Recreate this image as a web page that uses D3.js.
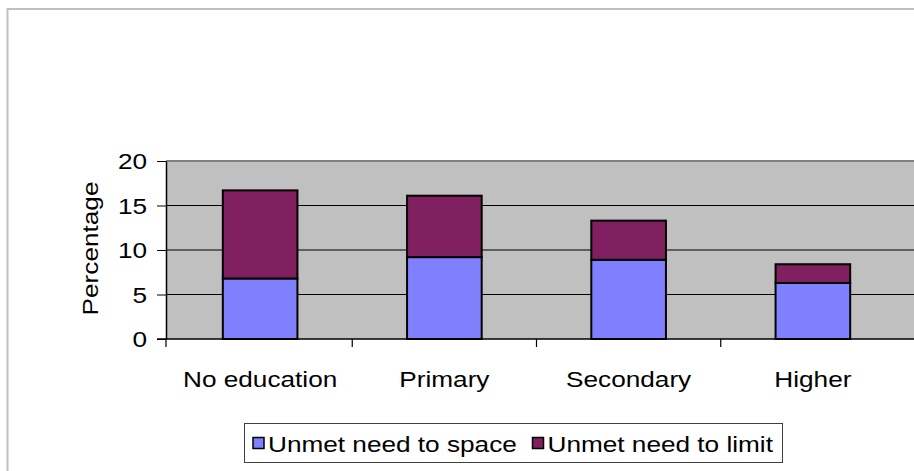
<!DOCTYPE html>
<html>
<head>
<meta charset="utf-8">
<script src="https://cdn.jsdelivr.net/npm/d3@7"></script>
<style>
  html, body { margin: 0; padding: 0; background: #fff; }
  svg { display: block; }
  text { font-family: "Liberation Sans", Arial, sans-serif; fill: #000; }
</style>
</head>
<body>
<div id="chart"></div>
<script>
// ---- data ----
const categories = ["No education", "Primary", "Secondary", "Higher"];
const spaceValues = [6.8, 9.2, 8.9, 6.3];
const limitValues = [9.9, 6.9, 4.4, 2.1];
const seriesNames = ["Unmet need to space", "Unmet need to limit"];
const seriesColors = ["#8080FF", "#802060"];
const yTicks = [0, 5, 10, 15, 20];
const yTitle = "Percentage";

// ---- layout ----
const W = 914, H = 471;
const plotLeft = 166, plotTop = 161, plotBottom = 339;
const fontSize = 22, stretch = 1.19;

const svg = d3.select("#chart").append("svg").attr("width", W).attr("height", H);

// outer chart border
svg.append("rect").attr("x", 7.5).attr("y", 9).attr("width", 1000).attr("height", 1000)
  .attr("fill", "#fff").attr("stroke", "#c0c0c0").attr("stroke-width", 2);

const x = d3.scaleBand().domain(categories).range([168, 905]).padding(0);
const y = d3.scaleLinear().domain([0, 20]).range([plotBottom, plotTop]);

// plot area background
svg.append("rect").attr("x", plotLeft).attr("y", plotTop)
  .attr("width", W - plotLeft + 10).attr("height", plotBottom - plotTop)
  .attr("fill", "#c0c0c0");

// gridlines
svg.append("g").selectAll("line").data(yTicks.filter(t => t > 0 && t < 20)).join("line")
  .attr("x1", plotLeft).attr("x2", W + 5)
  .attr("y1", d => y(d)).attr("y2", d => y(d))
  .attr("stroke", "#000").attr("stroke-width", 1);

// top border of plot area
svg.append("line").attr("x1", plotLeft).attr("x2", W + 5)
  .attr("y1", y(20)).attr("y2", y(20))
  .attr("stroke", "#808080").attr("stroke-width", 2);

// stacked bars
const rows = categories.map((c, i) => ({ cat: c, space: spaceValues[i], limit: limitValues[i] }));
const stacked = d3.stack().keys(["space", "limit"])(rows);
const barW = x.bandwidth() * 0.405;
svg.append("g").selectAll("g").data(stacked).join("g")
  .attr("fill", (d, i) => seriesColors[i])
  .selectAll("rect").data(d => d).join("rect")
  .attr("x", d => x(d.data.cat) + (x.bandwidth() - barW) / 2)
  .attr("width", barW)
  .attr("y", d => y(d[1]))
  .attr("height", d => y(d[0]) - y(d[1]))
  .attr("stroke", "#000").attr("stroke-width", 2);

// x axis line
svg.append("line").attr("x1", plotLeft - 9).attr("x2", W + 5)
  .attr("y1", plotBottom).attr("y2", plotBottom)
  .attr("stroke", "#000").attr("stroke-width", 1.5);

// x axis category boundary ticks
const bounds = [plotLeft].concat(categories.slice(1).map(c => x(c)));
svg.append("g").selectAll("line").data(bounds).join("line")
  .attr("x1", d => d).attr("x2", d => d)
  .attr("y1", plotBottom).attr("y2", plotBottom + 8)
  .attr("stroke", "#000").attr("stroke-width", 1.2);

// y axis
const yAxis = d3.axisLeft(y).tickValues(yTicks).tickSize(9).tickSizeOuter(0).tickPadding(10);
const gy = svg.append("g").attr("transform", `translate(${plotLeft},0)`).call(yAxis);
gy.select(".domain").attr("stroke", "#000").attr("stroke-width", 1.5);
gy.selectAll(".tick line").attr("stroke", "#000").attr("stroke-width", 1);
gy.selectAll(".tick text")
  .attr("font-size", fontSize)
  .attr("font-family", "Liberation Sans, Arial, sans-serif")
  .attr("fill", "#000")
  .attr("x", -19 / stretch)
  .attr("dy", "0.36em")
  .attr("transform", `scale(${stretch},1)`);

// category labels
svg.append("g").selectAll("g").data(categories).join("g")
  .attr("transform", d => `translate(${x(d) + x.bandwidth() / 2},387) scale(${stretch},1)`)
  .append("text").attr("text-anchor", "middle").attr("font-size", fontSize).text(d => d);

// y axis title
svg.append("g").attr("transform", `translate(97.5,248.5) rotate(-90) scale(${stretch},1)`)
  .append("text").attr("text-anchor", "middle").attr("font-size", fontSize).text(yTitle);

// legend
const lg = svg.append("g");
lg.append("rect").attr("x", 244.5).attr("y", 423.5).attr("width", 538).attr("height", 39)
  .attr("fill", "#fff").attr("stroke", "#404040").attr("stroke-width", 1);
const legendX = [253, 532.5];
const items = lg.selectAll("g").data(seriesNames).join("g")
  .attr("transform", (d, i) => `translate(${legendX[i]},0)`);
items.append("rect").attr("x", 0).attr("y", 437.5).attr("width", 11).attr("height", 11)
  .attr("fill", (d, i) => seriesColors[i]).attr("stroke", "#000").attr("stroke-width", 1.5);
items.append("g").attr("transform", `translate(15,451.5) scale(${stretch},1)`)
  .append("text").attr("font-size", fontSize).text(d => d);
</script>
</body>
</html>
